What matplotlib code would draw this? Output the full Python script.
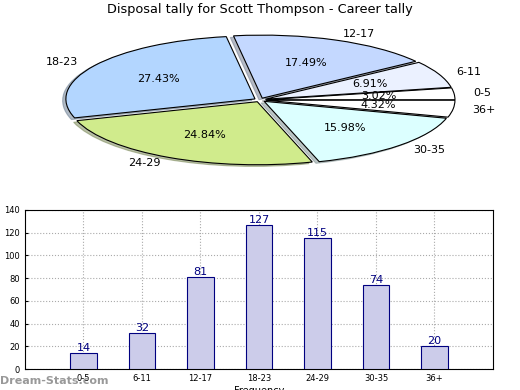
import matplotlib
matplotlib.use("Agg")
import matplotlib.pyplot as plt

categories = ["0-5", "6-11", "12-17", "18-23", "24-29", "30-35", "36+"]
values = [14, 32, 81, 127, 115, 74, 20]
pie_colors = ["#ffffff", "#ebf1ff", "#c4d8ff", "#b3d6ff", "#d0eb8c", "#dcffff", "#ffffff"]
yticks = [0, 20, 40, 60, 80, 100, 120, 140]

fig = plt.figure(figsize=(5.2, 3.9), dpi=100)
fig.patch.set_facecolor("white")

# Pie (squashed ellipse)
axp = fig.add_axes([0.0875, 0.5603, 0.825, 0.3667])
wedges, texts, autotexts = axp.pie(
    values, labels=categories, colors=pie_colors, startangle=0, radius=0.97,
    explode=[0.03] * len(values),
    shadow={"ox": -0.012, "oy": -0.018, "shade": 0.45},
    autopct="%1.2f%%",
    wedgeprops=dict(edgecolor="black", linewidth=0.8),
    textprops=dict(fontsize=8))
axp.set_aspect("auto")
axp.set_xlim(-1.1, 1.1)
axp.set_ylim(-1.1, 1.1)
axp.axis("off")
fig.text(0.5, 0.975, "Disposal tally for Scott Thompson - Career tally",
         ha="center", va="center", fontsize=9.3)

# Bar chart
axb = fig.add_axes([0.048, 0.0538, 0.9, 0.408])
x = list(range(len(categories)))
bars = axb.bar(x, values, width=0.45, color="#ccccea", edgecolor="#000080", linewidth=0.8, zorder=3)
for xi, v in zip(x, values):
    axb.text(xi, v, str(v), ha="center", va="bottom", color="#000080", fontsize=8, zorder=4)
axb.set_xlim(-1, 7)
axb.set_ylim(0, 140)
axb.set_yticks(yticks)
axb.set_xticks(x)
axb.set_xticklabels(categories)
axb.tick_params(labelsize=6, length=2, direction="in")
axb.grid(True, linestyle=":", color="#aaaaaa", linewidth=0.8, zorder=0)
axb.set_xlabel("Frequency", fontsize=7, labelpad=2)
axb.set_ylabel("Stat Intervals", fontsize=7, labelpad=2)

fig.text(0.0, 0.022, "Dream-Stats.com", fontsize=8, color="#999999",
         fontweight="bold", ha="left", va="center")

fig.savefig("out.png", dpi=100)
